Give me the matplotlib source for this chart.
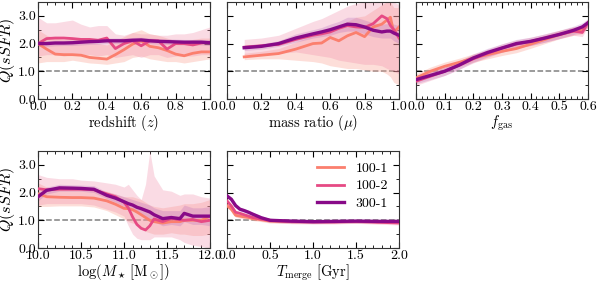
import matplotlib
matplotlib.use("Agg")
import matplotlib.pyplot as plt
import numpy as np
from matplotlib.ticker import AutoMinorLocator, MultipleLocator

plt.rcParams["font.family"] = "serif"
plt.rcParams["font.serif"] = ["cmr10", "DejaVu Serif"]
plt.rcParams["mathtext.fontset"] = "cm"
plt.rcParams["axes.unicode_minus"] = False
plt.rcParams["axes.formatter.use_mathtext"] = True

colors = {"100-1": "#fb7f6e", "100-2": "#e64a84", "300-1": "#880a88"}
fill_alpha = {"100-1": 0.35, "100-2": 0.3, "300-1": 0.25}
fill_colors = {"100-1": "#fba393", "100-2": "#f08aa8", "300-1": "#b060b8"}
series_names = ["100-1", "100-2", "300-1"]

# --- redshift panel ---
z_x = [0.0, 0.05, 0.1, 0.15, 0.2, 0.25, 0.3, 0.35, 0.4, 0.45, 0.5, 0.55, 0.6,
       0.65, 0.7, 0.75, 0.8, 0.85, 0.9, 0.95, 1.0]
z_mid = {
    "100-1": [2.0, 1.8, 1.62, 1.6, 1.6, 1.58, 1.5, 1.47, 1.44, 1.6, 1.78, 1.98, 2.1,
              1.9, 1.85, 1.75, 1.62, 1.56, 1.65, 1.7, 1.7],
    "100-2": [2.0, 2.18, 2.2, 2.2, 2.18, 2.15, 2.15, 2.12, 2.2, 1.82, 2.0, 2.1, 1.92,
              2.1, 2.1, 1.8, 2.0, 2.0, 1.95, 2.02, 2.05],
    "300-1": [2.0, 2.0, 2.02, 2.02, 2.03, 2.05, 2.07, 2.08, 2.1, 2.1, 2.1, 2.12, 2.13,
              2.1, 2.08, 2.07, 2.06, 2.05, 2.05, 2.05, 2.03],
}
z_lo = {
    "100-1": [1.3, 1.35, 1.35, 1.35, 1.4, 1.35, 1.3, 1.28, 1.25, 1.3, 1.35, 1.5, 1.55,
              1.45, 1.4, 1.35, 1.35, 1.3, 1.35, 1.4, 1.45],
    "100-2": [1.55, 1.6, 1.6, 1.55, 1.6, 1.6, 1.6, 1.55, 1.6, 1.5, 1.55, 1.6, 1.5,
              1.6, 1.6, 1.5, 1.55, 1.55, 1.55, 1.6, 1.6],
    "300-1": [1.9, 1.9, 1.92, 1.93, 1.93, 1.95, 1.97, 1.98, 2.0, 2.0, 2.0, 2.02, 2.03,
              2.0, 1.98, 1.97, 1.96, 1.95, 1.95, 1.95, 1.93],
}
z_hi = {
    "100-1": [2.5, 2.3, 2.2, 2.15, 2.2, 2.15, 2.05, 2.0, 1.95, 2.1, 2.25, 2.4, 2.5,
              2.35, 2.3, 2.2, 2.1, 2.05, 2.15, 2.2, 2.2],
    "100-2": [2.95, 2.75, 2.75, 2.8, 2.85, 2.7, 2.6, 2.65, 2.65, 2.35, 2.3, 2.4, 2.35,
              2.35, 2.3, 2.3, 2.35, 2.35, 2.4, 2.5, 2.6],
    "300-1": [2.1, 2.1, 2.12, 2.12, 2.13, 2.15, 2.17, 2.18, 2.2, 2.2, 2.2, 2.22, 2.23,
              2.2, 2.18, 2.17, 2.16, 2.15, 2.15, 2.15, 2.13],
}

# --- mass ratio panel ---
mu_x = [0.1, 0.2, 0.3, 0.4, 0.5, 0.55, 0.6, 0.65, 0.7, 0.75, 0.8, 0.85, 0.9,
        0.93, 0.95, 0.97, 1.0]
mu_mid = {
    "100-1": [1.52, 1.58, 1.64, 1.8, 2.0, 2.02, 2.22, 2.1, 2.28, 2.4, 2.25, 2.6, 2.7,
              2.85, 2.95, 2.4, 2.6],
    "100-2": [1.87, 1.92, 1.97, 2.15, 2.3, 2.35, 2.42, 2.55, 2.65, 2.6, 2.58, 2.72, 3.0,
              2.9, 2.65, 2.5, 2.2],
    "300-1": [1.85, 1.9, 2.0, 2.2, 2.35, 2.42, 2.5, 2.6, 2.7, 2.68, 2.6, 2.48, 2.42,
              2.45, 2.45, 2.38, 2.3],
}
mu_lo = {
    "100-1": [1.42, 1.45, 1.45, 1.4, 1.35, 1.3, 1.2, 1.15, 1.1, 1.1, 1.05, 1.0, 1.0,
              0.9, 0.8, 0.6, 0.5],
    "100-2": [1.6, 1.62, 1.65, 1.7, 1.6, 1.55, 1.5, 1.4, 1.35, 1.3, 1.25, 1.25, 1.2,
              1.1, 1.05, 1.0, 0.9],
    "300-1": [1.75, 1.8, 1.9, 2.05, 2.2, 2.25, 2.3, 2.4, 2.45, 2.45, 2.35, 2.25, 2.2,
              2.2, 2.2, 2.1, 2.0],
}
mu_hi = {
    "100-1": [1.65, 1.72, 1.82, 2.05, 2.3, 2.4, 2.55, 2.65, 2.8, 2.95, 3.0, 3.2, 3.4,
              3.5, 3.5, 3.3, 3.3],
    "100-2": [2.15, 2.2, 2.3, 2.55, 2.8, 2.9, 3.05, 3.2, 3.35, 3.45, 3.5, 3.5, 3.5,
              3.5, 3.5, 3.5, 3.4],
    "300-1": [1.95, 2.0, 2.1, 2.35, 2.5, 2.58, 2.7, 2.8, 2.95, 2.95, 2.85, 2.75, 2.7,
              2.72, 2.72, 2.7, 2.65],
}

# --- gas fraction panel ---
fg_x = [0.0, 0.05, 0.1, 0.15, 0.2, 0.25, 0.3, 0.35, 0.4, 0.45, 0.5, 0.55, 0.58, 0.6]
fg_mid = {
    "100-1": [0.76, 1.0, 1.18, 1.32, 1.48, 1.6, 1.72, 1.82, 1.98, 2.15, 2.32, 2.45, 2.5, 2.75],
    "100-2": [0.64, 0.82, 1.0, 1.22, 1.45, 1.65, 1.84, 1.98, 2.08, 2.2, 2.33, 2.45, 2.4, 2.75],
    "300-1": [0.7, 0.85, 1.0, 1.22, 1.48, 1.68, 1.84, 2.0, 2.08, 2.2, 2.33, 2.48, 2.6, 2.75],
}
fg_lo = {k: [v - 0.15 for v in vals] for k, vals in fg_mid.items()}
fg_hi = {k: [v + 0.15 for v in vals] for k, vals in fg_mid.items()}

# --- stellar mass panel ---
ms_x = [10.0, 10.1, 10.25, 10.4, 10.5, 10.65, 10.8, 10.9, 11.0, 11.05, 11.1, 11.15,
        11.2, 11.25, 11.3, 11.35, 11.45, 11.55, 11.65, 11.7, 11.8, 11.9, 12.0]
ms_mid = {
    "100-1": [1.96, 1.85, 1.83, 1.82, 1.82, 1.8, 1.7, 1.58, 1.43, 1.42, 1.38, 1.3,
              1.2, 1.1, 1.0, 0.95, 0.9, 0.95, 0.95, 1.0, 1.0, 1.0, 1.15],
    "100-2": [2.14, 2.1, 2.12, 2.12, 2.12, 2.1, 1.95, 1.85, 1.65, 1.45, 1.12, 0.85,
              0.71, 0.65, 0.8, 1.05, 0.95, 1.07, 1.02, 1.0, 1.03, 0.95, 1.0],
    "300-1": [1.85, 2.08, 2.17, 2.16, 2.15, 2.12, 1.9, 1.8, 1.67, 1.6, 1.55, 1.47,
              1.42, 1.36, 1.3, 1.2, 1.06, 1.1, 1.06, 1.25, 1.15, 1.15, 1.15],
}
ms_lo = {
    "100-1": [1.5, 1.5, 1.52, 1.52, 1.52, 1.48, 1.35, 1.2, 1.05, 0.95, 0.9, 0.85,
              0.7, 0.6, 0.55, 0.5, 0.5, 0.55, 0.5, 0.5, 0.45, 0.45, 0.5],
    "100-2": [1.55, 1.6, 1.6, 1.6, 1.6, 1.55, 1.4, 1.3, 1.15, 0.8, 0.5, 0.35,
              0.3, 0.3, 0.3, 0.4, 0.4, 0.4, 0.3, 0.2, 0.1, 0.05, 0.0],
    "300-1": [1.7, 1.95, 2.05, 2.05, 2.05, 2.0, 1.78, 1.65, 1.5, 1.42, 1.35, 1.25,
              1.2, 1.12, 1.05, 0.95, 0.8, 0.85, 0.8, 0.95, 0.85, 0.85, 0.8],
}
ms_hi = {
    "100-1": [2.35, 2.2, 2.15, 2.15, 2.15, 2.12, 2.05, 1.95, 1.85, 1.85, 1.85, 1.8,
              1.75, 1.65, 1.55, 1.5, 1.45, 1.5, 1.55, 1.6, 1.6, 1.65, 1.75],
    "100-2": [2.65, 2.55, 2.5, 2.5, 2.45, 2.42, 2.35, 2.3, 2.2, 2.3, 2.1, 1.9,
              1.75, 2.3, 3.5, 2.6, 2.1, 2.05, 1.9, 1.95, 1.95, 1.85, 1.8],
    "300-1": [2.0, 2.2, 2.3, 2.28, 2.27, 2.25, 2.02, 1.95, 1.85, 1.8, 1.75, 1.7,
              1.65, 1.6, 1.55, 1.45, 1.35, 1.35, 1.35, 1.55, 1.45, 1.45, 1.5],
}

# --- merger time panel ---
tm_x = [0.0, 0.05, 0.1, 0.15, 0.2, 0.25, 0.3, 0.4, 0.5, 0.75, 1.0, 1.25, 1.5, 1.75, 2.0]
tm_mid = {
    "100-1": [1.53, 1.4, 1.18, 1.15, 1.12, 1.1, 1.06, 1.02, 0.97, 0.95, 0.95, 0.95, 0.96, 0.95, 0.95],
    "100-2": [1.7, 1.52, 1.29, 1.25, 1.2, 1.15, 1.1, 1.04, 1.0, 0.95, 0.94, 0.94, 0.96, 0.93, 0.9],
    "300-1": [1.88, 1.76, 1.53, 1.4, 1.35, 1.29, 1.22, 1.09, 1.0, 0.97, 0.95, 0.96, 0.97, 0.96, 0.96],
}
tm_lo = {k: [v - 0.07 for v in vals] for k, vals in tm_mid.items()}
tm_hi = {k: [v + 0.07 for v in vals] for k, vals in tm_mid.items()}

panels = [
    (z_x, z_mid, z_lo, z_hi, (0, 1), 0.2, r"$\mathrm{redshift}\ (z)$"),
    (mu_x, mu_mid, mu_lo, mu_hi, (0, 1), 0.2, r"$\mathrm{mass\ ratio}\ (\mu)$"),
    (fg_x, fg_mid, fg_lo, fg_hi, (0, 0.6), 0.1, r"$f_{\rm gas}$"),
    (ms_x, ms_mid, ms_lo, ms_hi, (10, 12), 0.5, r"$\log(M_\star\,[\mathrm{M}_\odot])$"),
    (tm_x, tm_mid, tm_lo, tm_hi, (0, 2), 0.5, r"$T_{\rm merge}\ [\mathrm{Gyr}]$"),
]

fig = plt.figure(figsize=(5.98, 2.81), dpi=100)
w, h = 172 / 598, 97 / 281
lefts = [38 / 598, 227 / 598, 416 / 598]
bottoms = [1 - 99 / 281, 1 - 248 / 281]
positions = [(lefts[0], bottoms[0]), (lefts[1], bottoms[0]), (lefts[2], bottoms[0]),
             (lefts[0], bottoms[1]), (lefts[1], bottoms[1])]

for i, ((x, mid, lo, hi, xlim, xmaj, xlabel), (l, b)) in enumerate(zip(panels, positions)):
    ax = fig.add_axes([l, b, w, h])
    ax.axhline(1.0, color="gray", ls="--", lw=1.1, zorder=1)
    for name in series_names:
        ax.fill_between(x, lo[name], hi[name], color=fill_colors[name],
                        alpha=fill_alpha[name], lw=0, zorder=2)
    for name in series_names:
        lw = 2.4 if name == "300-1" else 2.0
        ax.plot(x, mid[name], color=colors[name], lw=lw, label=name, zorder=3)
    ax.set_xlim(*xlim)
    ax.set_ylim(0, 3.5)
    ax.xaxis.set_major_locator(MultipleLocator(xmaj))
    ax.xaxis.set_minor_locator(AutoMinorLocator())
    ax.yaxis.set_major_locator(MultipleLocator(1.0))
    ax.yaxis.set_minor_locator(AutoMinorLocator(2))
    ax.xaxis.set_major_formatter(plt.FormatStrFormatter("%.1f"))
    ax.yaxis.set_major_formatter(plt.FormatStrFormatter("%.1f"))
    ax.tick_params(which="both", direction="in", top=True, right=True, labelsize=10)
    ax.tick_params(which="major", length=4, width=0.8, pad=1.5)
    ax.tick_params(which="minor", length=2.2, width=0.6)
    for sp in ax.spines.values():
        sp.set_linewidth(0.8)
        sp.set_color("#333333")
    ax.set_xlabel(xlabel, fontsize=10.5, labelpad=0)
    if i in (0, 3):
        ax.set_ylabel(r"$Q(sSFR)$", fontsize=11.5)
        ax.yaxis.set_label_coords(-0.12, 0.5)
    else:
        ax.set_yticklabels([])
    if i == 4:
        ax.legend(loc="upper right", frameon=False, fontsize=10, handlelength=2.0,
                  handletextpad=0.8, borderaxespad=0.4, labelspacing=0.35)

fig.savefig("out.png", dpi=100)
